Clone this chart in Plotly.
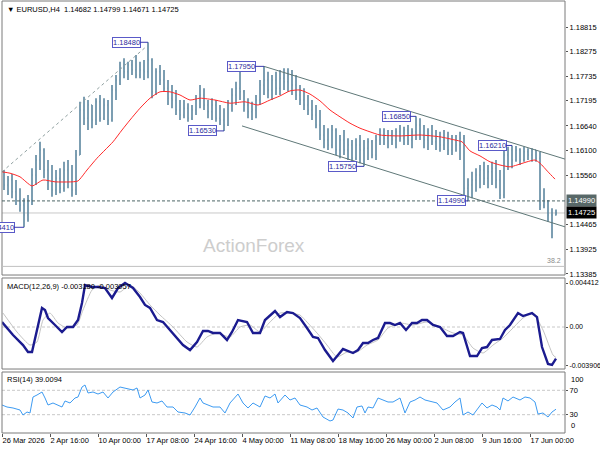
import plotly.graph_objects as go

# ---------------- data ----------------
bar_index = list(range(139))
bar_open = [1.1563, 1.1534, 1.1545, 1.1519, 1.1501, 1.1490, 1.1468, 1.1501, 1.1556, 1.1589,
            1.1611, 1.1567, 1.1541, 1.1523, 1.1549, 1.1527, 1.1567, 1.1541, 1.1523, 1.1600,
            1.1699, 1.1681, 1.1710, 1.1677, 1.1717, 1.1681, 1.1710, 1.1677, 1.1743, 1.1765,
            1.1791, 1.1783, 1.1798, 1.1787, 1.1776, 1.1787, 1.1783, 1.1809, 1.1739, 1.1783,
            1.1765, 1.1747, 1.1725, 1.1721, 1.1699, 1.1688, 1.1703, 1.1681, 1.1699, 1.1721,
            1.1732, 1.1710, 1.1695, 1.1710, 1.1681, 1.1677, 1.1666, 1.1710, 1.1732, 1.1747,
            1.1739, 1.1710, 1.1695, 1.1699, 1.1721, 1.1754, 1.1765, 1.1743, 1.1765, 1.1747,
            1.1769, 1.1761, 1.1776, 1.1754, 1.1732, 1.1721, 1.1710, 1.1699, 1.1688, 1.1666,
            1.1644, 1.1633, 1.1622, 1.1655, 1.1611, 1.1633, 1.1611, 1.1622, 1.1593, 1.1622,
            1.1611, 1.1615, 1.1629, 1.1600, 1.1633, 1.1644, 1.1637, 1.1644, 1.1633, 1.1651,
            1.1637, 1.1655, 1.1633, 1.1651, 1.1666, 1.1644, 1.1633, 1.1644, 1.1629, 1.1637,
            1.1622, 1.1633, 1.1611, 1.1633, 1.1622, 1.1637, 1.1527, 1.1534, 1.1545, 1.1556,
            1.1567, 1.1549, 1.1563, 1.1571, 1.1545, 1.1512, 1.1600, 1.1611, 1.1589, 1.1611,
            1.1589, 1.1607, 1.1600, 1.1611, 1.1593, 1.1490, 1.1497, 1.1468, 1.14682]
bar_high = [1.1567, 1.1554, 1.1558, 1.1545, 1.1527, 1.1505, 1.1512, 1.1571, 1.1600, 1.1629,
            1.1615, 1.1589, 1.1578, 1.1567, 1.1571, 1.1585, 1.1589, 1.1578, 1.1611, 1.1717,
            1.1728, 1.1721, 1.1710, 1.1725, 1.1732, 1.1725, 1.1721, 1.1754, 1.1776, 1.1805,
            1.1813, 1.1805, 1.1809, 1.1820, 1.1805, 1.1809, 1.1848, 1.1813, 1.1791, 1.1798,
            1.1787, 1.1765, 1.1754, 1.1743, 1.1721, 1.1721, 1.1714, 1.1710, 1.1732, 1.1754,
            1.1747, 1.1721, 1.1725, 1.1721, 1.1710, 1.1703, 1.1721, 1.1747, 1.1761, 1.1787,
            1.1743, 1.1725, 1.1717, 1.1732, 1.1765, 1.1795, 1.1783, 1.1776, 1.1783, 1.1787,
            1.1791, 1.1791, 1.1787, 1.1776, 1.1754, 1.1747, 1.1732, 1.1721, 1.1710, 1.1699,
            1.1666, 1.1659, 1.1666, 1.1659, 1.1644, 1.1655, 1.1637, 1.1633, 1.1637, 1.1644,
            1.1633, 1.1637, 1.1633, 1.1644, 1.1659, 1.1659, 1.1655, 1.1655, 1.1659, 1.1666,
            1.1662, 1.1666, 1.1659, 1.1685, 1.1681, 1.1666, 1.1659, 1.1666, 1.1655, 1.1651,
            1.1655, 1.1651, 1.1644, 1.1644, 1.1651, 1.1644, 1.1549, 1.1563, 1.1571, 1.1578,
            1.1585, 1.1578, 1.1585, 1.1589, 1.1567, 1.1611, 1.1618, 1.1621, 1.1620, 1.1615,
            1.1618, 1.1615, 1.1615, 1.1611, 1.1607, 1.1527, 1.1501, 1.1483, 1.14799]
bar_low = [1.1523, 1.1512, 1.1505, 1.1490, 1.1475, 1.1441, 1.1453, 1.1490, 1.1534, 1.1567,
           1.1549, 1.1523, 1.1508, 1.1512, 1.1516, 1.1519, 1.1527, 1.1508, 1.1512, 1.1600,
           1.1666, 1.1655, 1.1659, 1.1666, 1.1673, 1.1677, 1.1666, 1.1673, 1.1721, 1.1754,
           1.1769, 1.1765, 1.1776, 1.1769, 1.1769, 1.1765, 1.1769, 1.1725, 1.1732, 1.1754,
           1.1739, 1.1710, 1.1703, 1.1688, 1.1677, 1.1681, 1.1673, 1.1677, 1.1688, 1.1703,
           1.1699, 1.1681, 1.1677, 1.1673, 1.1666, 1.1653, 1.1664, 1.1695, 1.1710, 1.1721,
           1.1695, 1.1681, 1.1677, 1.1681, 1.1710, 1.1732, 1.1725, 1.1721, 1.1732, 1.1732,
           1.1743, 1.1739, 1.1732, 1.1721, 1.1710, 1.1699, 1.1688, 1.1677, 1.1659, 1.1633,
           1.1615, 1.1611, 1.1615, 1.1600, 1.1593, 1.1600, 1.1589, 1.1585, 1.1589, 1.1582,
           1.1575, 1.1589, 1.1593, 1.1589, 1.1622, 1.1622, 1.1615, 1.1622, 1.1615, 1.1629,
           1.1622, 1.1622, 1.1615, 1.1633, 1.1633, 1.1615, 1.1611, 1.1622, 1.1611, 1.1607,
           1.1611, 1.1600, 1.1600, 1.1607, 1.1589, 1.1512, 1.1499, 1.1505, 1.1519, 1.1527,
           1.1534, 1.1527, 1.1534, 1.1527, 1.1503, 1.1505, 1.1567, 1.1571, 1.1585, 1.1578,
           1.1585, 1.1589, 1.1585, 1.1585, 1.1479, 1.1483, 1.1453, 1.1417, 1.14671]
bar_close = [1.1534, 1.1545, 1.1519, 1.1501, 1.1490, 1.1468, 1.1501, 1.1556, 1.1589, 1.1611,
             1.1567, 1.1541, 1.1523, 1.1549, 1.1527, 1.1567, 1.1541, 1.1523, 1.1600, 1.1699,
             1.1681, 1.1710, 1.1677, 1.1717, 1.1681, 1.1710, 1.1677, 1.1743, 1.1765, 1.1791,
             1.1783, 1.1798, 1.1787, 1.1776, 1.1787, 1.1783, 1.1809, 1.1739, 1.1783, 1.1765,
             1.1747, 1.1725, 1.1721, 1.1699, 1.1688, 1.1703, 1.1681, 1.1699, 1.1721, 1.1732,
             1.1710, 1.1695, 1.1710, 1.1681, 1.1677, 1.1666, 1.1710, 1.1732, 1.1747, 1.1739,
             1.1710, 1.1695, 1.1699, 1.1721, 1.1754, 1.1765, 1.1743, 1.1765, 1.1747, 1.1769,
             1.1761, 1.1776, 1.1754, 1.1732, 1.1721, 1.1710, 1.1699, 1.1688, 1.1666, 1.1644,
             1.1633, 1.1622, 1.1655, 1.1611, 1.1633, 1.1611, 1.1622, 1.1593, 1.1622, 1.1611,
             1.1615, 1.1629, 1.1600, 1.1633, 1.1644, 1.1637, 1.1644, 1.1633, 1.1651, 1.1637,
             1.1655, 1.1633, 1.1651, 1.1666, 1.1644, 1.1633, 1.1644, 1.1629, 1.1637, 1.1622,
             1.1633, 1.1611, 1.1633, 1.1622, 1.1637, 1.1527, 1.1534, 1.1545, 1.1556, 1.1567,
             1.1549, 1.1563, 1.1571, 1.1545, 1.1512, 1.1600, 1.1611, 1.1589, 1.1611, 1.1589,
             1.1607, 1.1600, 1.1611, 1.1593, 1.1490, 1.1497, 1.1468, 1.1468, 1.14725]

ma_x = [-0.5, 1.5, 4, 7, 9.75, 12.75, 17, 18.5, 20.75, 23.25, 25.25, 27.25, 29.5, 31.5, 34, 36.5,
        39, 41.5, 44, 46.5, 49, 52.75, 56.5, 60.25, 63.5, 66.5, 69, 71.5, 74, 76.5, 79, 81.5, 84,
        86.5, 89, 91.5, 94, 99, 104, 109, 112.75, 114.5, 116.5, 119, 121.5, 124, 126.5, 128.25,
        130.75, 132.75, 134, 136, 137.75]
ma_y = [1.1563, 1.1560, 1.1552, 1.1532, 1.1545, 1.1541, 1.1541, 1.1543, 1.1567, 1.1593, 1.1611,
        1.1629, 1.1655, 1.1677, 1.1703, 1.1725, 1.1739, 1.1739, 1.1732, 1.1721, 1.1725, 1.1721,
        1.1714, 1.1717, 1.1710, 1.1721, 1.1730, 1.1741, 1.1743, 1.1734, 1.1719, 1.1699, 1.1684,
        1.1670, 1.1659, 1.1651, 1.1644, 1.1642, 1.1644, 1.1640, 1.1633, 1.1629, 1.1609, 1.1598,
        1.1585, 1.1578, 1.1574, 1.1578, 1.1585, 1.1589, 1.1582, 1.1563, 1.1547]

channel_upper_x = [65, 140.25]
channel_upper_y = [1.1795, 1.1591]
channel_lower_x = [59.5, 140.25]
channel_lower_y = [1.1664, 1.1442]
diag_x = [-0.5, 35.5]
diag_y = [1.1563, 1.1838]

macd_x = [-0.5, 2.25, 4.75, 6, 7, 8.25, 9.5, 10.25, 11, 12.75,
          14.5, 15.75, 17.25, 18.5, 19.5, 20.25, 22, 23.5, 25.25, 27,
          28.5, 30.25, 32.25, 34, 35.25, 36.5, 38.25, 39.75, 41.5, 43.25,
          44.75, 46.5, 48.25, 49.75, 51, 52.25, 54, 55.75, 57, 58.5,
          60.75, 62.25, 64, 65.25, 66.5, 67.75, 69, 70.75, 72.25, 74,
          75.75, 77.25, 78.5, 80.25, 82.25, 84, 84.75, 87.25, 88.5, 89.75,
          91, 92.25, 93.5, 95.25, 96.5, 97.75, 99, 100.5, 102, 103.25,
          104.5, 105.75, 107.25, 109, 110.75, 112.25, 114, 114.75, 116.5, 118.25,
          119.5, 120.75, 122, 124, 125.25, 126.5, 128.5, 129.75, 132, 133.25,
          134.5, 136, 137, 138]
macd_y = [0.00050, -0.00080, -0.00181, -0.00251, -0.00251, -0.00030, 0.00191, 0.00171, 0.00090, 0.00020,
          -0.00050, 0.0, 0.0, 0.00070, 0.00241, 0.00421, 0.00401, 0.00401, 0.00391, 0.00291,
          0.00391, 0.00441, 0.00391, 0.00301, 0.00221, 0.00191, 0.00070, 0.00050, -0.00030, -0.00110,
          -0.00181, -0.00231, -0.00150, -0.00040, -0.00040, -0.00060, -0.00060, -0.00130, -0.00050, 0.00070,
          0.00050, -0.00060, -0.00060, 0.00070, 0.00120, 0.00160, 0.00100, 0.00150, 0.00140, 0.00090,
          -0.00010, -0.00100, -0.00110, -0.00231, -0.00341, -0.00261, -0.00221, -0.00261, -0.00231, -0.00160,
          -0.00160, -0.00130, -0.00110, 0.00040, 0.00040, 0.00020, 0.00040, -0.00030, 0.00040, 0.00040,
          0.00070, 0.00070, 0.00020, 0.0, -0.00090, -0.00090, -0.00050, -0.00060, -0.00291, -0.00291,
          -0.00211, -0.00201, -0.00130, -0.00120, -0.00030, 0.00020, 0.00140, 0.00110, 0.00140, 0.00100,
          -0.00201, -0.00371, -0.00381, -0.00318]
signal_x = [-0.25, 3.25, 6.5, 8.25, 9.75, 11.5, 13.5, 15.75, 18.25, 19.75,
            22, 24, 26.5, 29, 31.5, 34, 36.5, 39, 42.25, 45.75,
            48.25, 50.75, 53.25, 56.5, 59, 61.5, 64, 66.5, 69, 71.5,
            74, 75.75, 78.25, 80.75, 83.25, 85.75, 88.25, 90.75, 93.5, 96,
            99, 102.25, 105.75, 109, 112.25, 114.75, 117.25, 119.75, 122.25, 124.75,
            127.25, 129.75, 132.25, 134.75, 137.25, 138]
signal_y = [0.00140, -0.00050, -0.00181, -0.00150, 0.00070, 0.00140, 0.00040, -0.00010, 0.00020, 0.00171,
            0.00371, 0.00421, 0.00371, 0.00351, 0.00421, 0.00341, 0.00221, 0.00120, 0.0, -0.00150,
            -0.00201, -0.00100, -0.00060, -0.00100, 0.0, 0.00020, -0.00050, 0.00050, 0.00140, 0.00140,
            0.00120, 0.00050, -0.00060, -0.00181, -0.00301, -0.00251, -0.00251, -0.00181, -0.00130, -0.00010,
            0.00040, 0.00020, 0.00050, 0.0, -0.00060, -0.00080, -0.00211, -0.00261, -0.00181, -0.00110,
            -0.00010, 0.00090, 0.00140, -0.00030, -0.00281, -0.00306]

rsi_x = [-0.5, 0.75, 2.25, 4, 4.75, 5.75, 6.5, 7.25, 8.25, 9.5,
         10.25, 11, 12.25, 13.5, 14.5, 15.25, 16.5, 17.75, 18.5, 19.5,
         20.25, 21, 22.25, 23.5, 24.75, 26, 27.25, 29, 30.75, 32.25,
         33.25, 34, 35.25, 36, 37, 38.25, 39.5, 40.75, 42.25, 43.5,
         45.25, 46.5, 47.75, 49, 49.75, 51, 52.25, 54, 55.25, 56.5,
         57.25, 58.5, 59.75, 61, 62.25, 64, 65.25, 66.5, 67.75, 68.5,
         70.25, 71.5, 72.75, 74, 75.75, 77, 78.25, 79.75, 81.5, 82.25,
         83.5, 84.75, 86, 87.25, 88.25, 89.5, 90.25, 91, 92.25, 93.5,
         94.75, 96, 97.25, 99, 100.25, 101.5, 102.75, 104, 105.25, 107,
         108.25, 109.75, 111.5, 112.75, 114, 114.75, 116, 117.25, 118.5, 119.5,
         120.75, 122, 123.25, 124, 124.75, 126, 127.25, 129, 130.25, 131.5,
         132.75, 133.5, 134.75, 136, 137, 138]
rsi_y = [45.9, 42.6, 41.0, 37.7, 29.5, 34.4, 32.8, 59.0, 62.3, 67.2,
         57.4, 45.9, 49.2, 45.9, 42.6, 52.5, 49.2, 57.4, 59.0, 75.4,
         78.7, 65.6, 67.2, 63.9, 67.2, 57.4, 67.2, 75.4, 72.1, 70.5,
         73.8, 57.4, 62.3, 70.5, 50.8, 49.2, 52.5, 42.6, 42.6, 34.4,
         32.8, 29.5, 42.6, 57.4, 49.2, 45.9, 42.6, 42.6, 32.8, 49.2,
         54.1, 63.9, 49.2, 41.0, 49.2, 42.6, 60.7, 57.4, 63.9, 49.2,
         62.3, 54.1, 57.4, 45.9, 42.6, 37.7, 41.0, 26.2, 19.7, 21.3,
         39.3, 37.7, 32.8, 24.6, 42.6, 44.3, 32.8, 42.6, 41.0, 57.4,
         54.1, 50.8, 50.8, 57.4, 32.8, 50.8, 54.1, 59.0, 54.1, 50.8,
         49.2, 37.7, 42.6, 50.8, 57.4, 29.5, 34.4, 29.5, 41.0, 49.2,
         41.0, 45.9, 42.6, 37.7, 57.4, 52.5, 59.0, 54.1, 59.0, 57.4,
         50.8, 31.1, 32.8, 26.2, 34.4, 39.0]

pivot_x = [36, 65, 55, 103, 90, 127, 116, 5]
pivot_y = [1.1848, 1.1795, 1.1653, 1.1685, 1.1575, 1.1621, 1.1499, 1.1441]
pivot_text = ["1.18480", "1.17950", "1.16530", "1.16850", "1.15750", "1.16210", "1.14990", "1.14410"]
pivot_offset = [-22, -23, -22, -20, -22, -20, -17, -24]

tick_pos = [-0.5, 11.5, 23.5, 35.5, 47.5, 59.5, 71.5, 83.5, 95.5, 107.5, 119.5, 131.5]
tick_text = ["26 Mar 2026", "2 Apr 16:00", "10 Apr 00:00", "17 Apr 08:00", "24 Apr 16:00",
             "4 May 00:00", "11 May 08:00", "18 May 16:00", "26 May 00:00", "2 Jun 08:00",
             "9 Jun 16:00", "17 Jun 00:00"]
price_ticks = [1.18815, 1.18275, 1.17735, 1.17195, 1.16640, 1.16100, 1.15560, 1.14465, 1.13925, 1.13385]
macd_ticks = [0.004412, 0.0, -0.003906]
macd_tick_text = ["0.004412", "0.00", "-0.003906"]
rsi_ticks = [30, 70]
rsi_edge_ticks = [100, 0]

level_support = 1.1499
level_last = 1.14725
level_fib = 1.1355

# ---------------- styling ----------------
FONT = "Liberation Sans"
BAR = "#527f99"
LBL = "#2b2b9c"
LBL_BORDER = "#5a5ac8"
CH = "#5f7878"
D_MAIN = [0.3657, 1.0]
D_MACD = [0.1481, 0.3588]
D_RSI = [0.0, 0.1412]

fig = go.Figure()
fig.add_trace(go.Ohlc(x=bar_index, open=bar_open, high=bar_high, low=bar_low, close=bar_close,
                      increasing=dict(line=dict(color=BAR, width=1.5)),
                      decreasing=dict(line=dict(color=BAR, width=1.5)),
                      tickwidth=0.2, hoverinfo="skip", xaxis="x", yaxis="y"))
fig.add_trace(go.Scatter(x=ma_x, y=ma_y, mode="lines", line=dict(color="#ff2a2a", width=1, shape="spline", smoothing=0.6),
                         hoverinfo="skip", yaxis="y"))
fig.add_trace(go.Scatter(x=channel_upper_x, y=channel_upper_y, mode="lines", line=dict(color=CH, width=1),
                         hoverinfo="skip", yaxis="y"))
fig.add_trace(go.Scatter(x=channel_lower_x, y=channel_lower_y, mode="lines", line=dict(color=CH, width=1),
                         hoverinfo="skip", yaxis="y"))
fig.add_trace(go.Scatter(x=diag_x, y=diag_y, mode="lines", line=dict(color="#8fa0a0", width=1, dash="3px,3px"),
                         hoverinfo="skip", yaxis="y"))
fig.add_trace(go.Scatter(x=signal_x, y=signal_y, mode="lines", line=dict(color="#c4c4c4", width=1, shape="spline", smoothing=0.5),
                         hoverinfo="skip", yaxis="y2"))
fig.add_trace(go.Scatter(x=macd_x, y=macd_y, mode="lines", line=dict(color="#1b1b8f", width=2.4),
                         hoverinfo="skip", yaxis="y2"))
fig.add_trace(go.Scatter(x=rsi_x, y=rsi_y, mode="lines", line=dict(color="#3d9bf2", width=1),
                         hoverinfo="skip", yaxis="y3"))

shapes = []
for dom in (D_MAIN, D_MACD, D_RSI):
    shapes.append(dict(type="rect", xref="paper", yref="paper", x0=0, x1=1, y0=dom[0], y1=dom[1],
                       line=dict(color="#7a7a7a", width=1), fillcolor="rgba(0,0,0,0)", layer="above"))
shapes.append(dict(type="line", xref="paper", yref="y", x0=0, x1=1, y0=level_support, y1=level_support,
                   line=dict(color="#4c6666", width=1, dash="3px,2px")))
shapes.append(dict(type="line", xref="paper", yref="y", x0=0, x1=1, y0=level_last, y1=level_last,
                   line=dict(color="#c8c8c8", width=1), layer="below"))
shapes.append(dict(type="line", xref="paper", yref="y", x0=0, x1=1, y0=level_fib, y1=level_fib,
                   line=dict(color="#c0c0c0", width=1)))
shapes.append(dict(type="line", xref="paper", yref="y2", x0=0, x1=1, y0=0, y1=0,
                   line=dict(color="#c8c8c8", width=1, dash="3px,2px"), layer="below"))
for lv in rsi_ticks:
    shapes.append(dict(type="line", xref="paper", yref="y3", x0=0, x1=1, y0=lv, y1=lv,
                       line=dict(color="#c8c8c8", width=1, dash="3px,2px"), layer="below"))

ann = []
for px, py, pt, off in zip(pivot_x, pivot_y, pivot_text, pivot_offset):
    ann.append(dict(x=px, y=py, xref="x", yref="y", text=pt, showarrow=True, arrowhead=0, arrowwidth=1,
                    arrowcolor="#3a3ab0", ax=off, ay=0, standoff=0,
                    font=dict(family=FONT, size=7.5, color=LBL), bgcolor="white",
                    bordercolor=LBL_BORDER, borderwidth=1, borderpad=0))
ann.append(dict(xref="paper", yref="paper", x=0, y=1, xanchor="left", yanchor="top", xshift=3, yshift=-2,
                text="▼ EURUSD,H4  1.14682 1.14799 1.14671 1.14725", showarrow=False,
                font=dict(family=FONT, size=7.5, color="black")))
ann.append(dict(xref="paper", yref="paper", x=0, y=D_MACD[1], xanchor="left", yanchor="top", xshift=3, yshift=-2,
                text="MACD(12,26,9) -0.003180 -0.003057", showarrow=False,
                font=dict(family=FONT, size=7.5, color="black")))
ann.append(dict(xref="paper", yref="paper", x=0, y=D_RSI[1], xanchor="left", yanchor="top", xshift=3, yshift=-1,
                text="RSI(14) 39.0094", showarrow=False,
                font=dict(family=FONT, size=7.5, color="black")))
ann.append(dict(xref="paper", yref="paper", x=0.4476, y=0.435, xanchor="center", yanchor="middle",
                text="ActionForex", showarrow=False, font=dict(family=FONT, size=19, color="#cdcdcd")))
ann.append(dict(xref="paper", yref="y", x=1, y=level_fib, xanchor="right", yanchor="bottom", xshift=-2, yshift=0,
                text="38.2", showarrow=False, font=dict(family=FONT, size=7, color="#8a8a8a")))
ann.append(dict(xref="paper", yref="y", x=1, y=level_support, xanchor="left", yanchor="middle", xshift=1,
                text="1.14990", showarrow=False, bgcolor="#586868", borderpad=1,
                font=dict(family=FONT, size=7.5, color="white")))
ann.append(dict(xref="paper", yref="y", x=1, y=level_last, xanchor="left", yanchor="middle", xshift=1,
                text="1.14725", showarrow=False, bgcolor="black", borderpad=1,
                font=dict(family=FONT, size=7.5, color="white")))
for v, anc in zip(rsi_edge_ticks, ("top", "bottom")):
    ann.append(dict(xref="paper", yref="y3", x=1, y=v, xanchor="left", yanchor=anc, xshift=4,
                    yshift=(-1 if anc == "top" else 1), text=str(v), showarrow=False,
                    font=dict(family=FONT, size=7.5, color="black")))

yax_common = dict(side="right", anchor="x", showgrid=False, zeroline=False, showline=False,
                  ticks="outside", ticklen=2, tickcolor="#555555", automargin=False,
                  ticklabelstandoff=0, fixedrange=True)

fig.update_layout(
    width=600, height=450, margin=dict(l=2, r=35, t=1, b=17, autoexpand=False),
    paper_bgcolor="white", plot_bgcolor="white", showlegend=False, dragmode=False,
    font=dict(family=FONT, size=7.5, color="black"),
    xaxis=dict(domain=[0, 1], anchor="y3", range=[-0.5, 140.25], tickmode="array", tickvals=tick_pos,
               ticktext=tick_text, ticks="outside", ticklen=3, tickcolor="#555555", tickangle=0,
               automargin=False, ticklabelposition="outside right",
               tickfont=dict(family=FONT, size=7.5, color="black"),
               showgrid=False, zeroline=False, showline=False, rangeslider=dict(visible=False), fixedrange=True),
    yaxis=dict(domain=D_MAIN, range=[1.1336, 1.19388], tickmode="array", tickvals=price_ticks,
               tickformat=".5f", tickfont=dict(family=FONT, size=7.5, color="black"), **yax_common),
    yaxis2=dict(domain=D_MACD, range=[-0.004213, 0.004915], tickmode="array", tickvals=macd_ticks,
                ticktext=macd_tick_text, tickfont=dict(family=FONT, size=7, color="black"), **yax_common),
    yaxis3=dict(domain=D_RSI, range=[0, 100], tickmode="array", tickvals=rsi_ticks,
                tickfont=dict(family=FONT, size=7.5, color="black"), **yax_common),
    shapes=shapes, annotations=ann,
)

fig.write_html("out.html")
